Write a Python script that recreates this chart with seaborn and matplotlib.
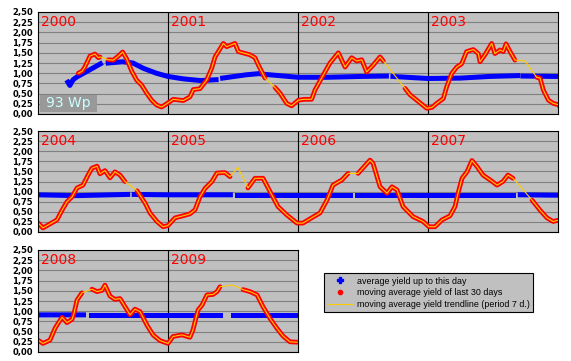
import numpy as np
import pandas as pd
import matplotlib
matplotlib.use("Agg")
import matplotlib.pyplot as plt
import seaborn as sns
from matplotlib.lines import Line2D
from matplotlib.patches import Rectangle

# x = decimal year, None marks a stretch without data
ma30_x = [2000.31, 2000.34, 2000.36, 2000.40, 2000.438, 2000.464, 2000.477, None,
          2000.541, 2000.579, 2000.618, 2000.651, 2000.682, 2000.721, 2000.759, 2000.797,
          2000.836, 2000.874, 2000.913, 2000.951, 2000.99,
          2001.04, 2001.118, 2001.169, 2001.195, 2001.246, 2001.297, 2001.336, 2001.362,
          2001.426, 2001.451, 2001.515, 2001.541, 2001.631, 2001.669, 2001.695, 2001.746, None,
          2001.823, 2001.862, 2001.913, 2001.951, 2002.003,
          2002.05, 2002.105, 2002.131, 2002.195, 2002.246, 2002.31, 2002.362, 2002.413,
          2002.451, 2002.49, 2002.528, 2002.579, 2002.631, 2002.656, None,
          2002.823, 2002.862, 2002.913, 2002.99,
          2003.03, 2003.067, 2003.118, 2003.144, 2003.182, 2003.221, 2003.259, 2003.297,
          2003.349, 2003.387, 2003.40, 2003.438, 2003.49, 2003.515, 2003.554, 2003.579,
          2003.60, 2003.631, 2003.669, None, 2003.746, None,
          2003.836, 2003.862, 2003.887, 2003.926, 2003.964,
          2004.0, 2004.038, 2004.092, 2004.146, 2004.185, 2004.223, 2004.262, 2004.30,
          2004.346, 2004.385, 2004.415, 2004.454, 2004.477, 2004.515, 2004.554, 2004.592,
          2004.631, 2004.669, None, 2004.762, 2004.823, 2004.862, 2004.915, 2004.962,
          2005.0, 2005.054, 2005.115, 2005.169, 2005.208, 2005.246, 2005.285, 2005.338,
          2005.377, 2005.438, 2005.477, None, 2005.538, None,
          2005.615, 2005.669, 2005.731, 2005.785, 2005.846, 2005.915, 2005.992,
          2006.038, 2006.115, 2006.169, 2006.223, 2006.269, 2006.338, 2006.385, None,
          2006.462, 2006.554, 2006.577, 2006.631, 2006.685, 2006.723, 2006.762, 2006.808,
          2006.885, 2006.962, 2007.008,
          2007.054, 2007.108, 2007.169, 2007.208, 2007.231, 2007.262, 2007.30, 2007.338,
          2007.377, 2007.423, 2007.477, 2007.531, 2007.577, 2007.615, 2007.654, None,
          2007.723, None, 2007.80, 2007.862, 2007.915, 2007.962,
          2008.0, 2008.038, 2008.092, 2008.131, 2008.154, 2008.185, 2008.223, 2008.262,
          2008.277, 2008.30, 2008.338, None, 2008.415, 2008.454, 2008.492, 2008.515,
          2008.554, 2008.592, 2008.631, 2008.685, 2008.708, 2008.746, 2008.785, 2008.838,
          2008.885, 2008.938,
          2009.0, 2009.038, 2009.108, 2009.169, 2009.192, 2009.231, 2009.262, 2009.30,
          2009.346, 2009.377, 2009.40, None, 2009.50, None,
          2009.577, 2009.631, 2009.685, 2009.731, 2009.785, 2009.838, 2009.885, 2009.938,
          2009.995]
ma30_y = [1.00, 1.05, 1.15, 1.42, 1.47, 1.38, 1.40, None,
          1.33, 1.32, 1.42, 1.52, 1.35, 1.05, 0.83, 0.71,
          0.51, 0.34, 0.22, 0.17, 0.25,
          0.36, 0.33, 0.42, 0.60, 0.62, 0.83, 1.12, 1.40,
          1.73, 1.65, 1.73, 1.53, 1.45, 1.38, 1.20, 0.88, None,
          0.65, 0.51, 0.26, 0.20, 0.34,
          0.36, 0.36, 0.59, 0.96, 1.25, 1.50, 1.15, 1.38,
          1.30, 1.33, 1.03, 1.20, 1.40, 1.30, None,
          0.63, 0.47, 0.34, 0.14,
          0.16, 0.26, 0.38, 0.67, 0.99, 1.15, 1.23, 1.53,
          1.58, 1.48, 1.28, 1.45, 1.73, 1.48, 1.57, 1.53,
          1.72, 1.53, 1.32, None, 1.30, None,
          0.90, 0.88, 0.59, 0.34, 0.26,
          0.23, 0.10, 0.20, 0.30, 0.54, 0.75, 0.87, 1.09,
          1.16, 1.41, 1.58, 1.63, 1.44, 1.52, 1.34, 1.49,
          1.41, 1.25, None, 1.02, 0.72, 0.47, 0.26, 0.13,
          0.16, 0.35, 0.40, 0.45, 0.55, 0.87, 1.08, 1.25,
          1.46, 1.47, 1.37, None, 1.60, None,
          1.09, 1.33, 1.33, 1.00, 0.63, 0.42, 0.22,
          0.22, 0.37, 0.47, 0.79, 1.16, 1.29, 1.45, None,
          1.45, 1.78, 1.70, 1.12, 0.96, 1.12, 1.04, 0.63,
          0.38, 0.26, 0.13,
          0.13, 0.30, 0.40, 0.63, 0.96, 1.33, 1.49, 1.77,
          1.62, 1.41, 1.29, 1.16, 1.25, 1.41, 1.33, None,
          1.08, None, 0.79, 0.54, 0.35, 0.26,
          0.29, 0.21, 0.29, 0.58, 0.70, 0.85, 0.72, 0.80,
          0.95, 1.27, 1.45, None, 1.54, 1.48, 1.51, 1.64,
          1.37, 1.29, 1.31, 1.03, 0.91, 1.05, 0.99, 0.66,
          0.42, 0.28,
          0.21, 0.38, 0.42, 0.36, 0.54, 1.03, 1.15, 1.40,
          1.41, 1.48, 1.60, None, 1.64, None,
          1.53, 1.48, 1.40, 1.11, 0.82, 0.58, 0.39, 0.25,
          0.24]

avg_x = [2000.23, 2000.245, 2000.27, 2000.30, 2000.38, 2000.48, None, 2000.54, 2000.65,
         2000.73, 2000.81, 2000.91, 2001.0, 2001.12, 2001.25, 2001.37, None, 2001.42,
         2001.60, 2001.70, 2001.75, 2002.0, 2002.22, 2002.48, 2002.68, None, 2002.73,
         2003.0, 2003.25, 2003.47, 2003.69, None, 2003.73, 2004.0,
         2004.30, 2004.69, None, 2004.74, 2005.0, 2005.48, None, 2005.53, 2006.0,
         2006.40, None, 2006.45, 2007.0, 2007.655, None, 2007.71, 2008.0,
         2008.35, None, 2008.41, 2009.0, 2009.40, None, 2009.50, 2010.0]
avg_y = [0.78, 0.70, 0.84, 0.91, 1.05, 1.23, None, 1.25, 1.28,
         1.25, 1.12, 1.00, 0.92, 0.86, 0.82, 0.84, None, 0.88,
         0.96, 0.99, 0.97, 0.90, 0.90, 0.92, 0.93, None, 0.92,
         0.87, 0.88, 0.92, 0.94, None, 0.93, 0.92,
         0.90, 0.93, None, 0.93, 0.92, 0.92, None, 0.92, 0.92,
         0.92, None, 0.92, 0.92, 0.92, None, 0.92, 0.91,
         0.91, None, 0.91, 0.91, 0.91, None, 0.91, 0.91]

row_starts = [2000, 2004, 2008]
row_years = [4, 4, 2]
legend_labels = ["average yield up to this day",
                 "moving average yield of last 30 days",
                 "moving average yield trendline (period 7 d.)"]


def to_frame(xs, ys, keep_gaps=True):
    seg = 0
    rec = []
    for x, y in zip(xs, ys):
        if y is None:
            if keep_gaps:
                seg += 1
            continue
        rec.append((x, y, seg))
    return pd.DataFrame(rec, columns=["x", "y", "seg"])


avg_df = to_frame(avg_x, avg_y)
ma_df = to_frame(ma30_x, ma30_y)
trend_df = to_frame(ma30_x, ma30_y, keep_gaps=False)

W, H = 571, 361
fig = plt.figure(figsize=(W / 100, H / 100), dpi=100)
boxes = [(38, 12, 520, 102), (38, 131, 520, 101), (38, 250, 260, 102)]

for start, n, (l, t, w, h) in zip(row_starts, row_years, boxes):
    ax = fig.add_axes([l / W, 1 - (t + h) / H, w / W, h / H])
    ax.set_facecolor("#c0c0c0")
    sns.lineplot(data=avg_df, x="x", y="y", units="seg", estimator=None, sort=False,
                 color="#0000ff", lw=3.6, ax=ax, legend=False)
    sns.lineplot(data=ma_df, x="x", y="y", units="seg", estimator=None, sort=False,
                 color="#ff0000", lw=3.4, ax=ax, legend=False, solid_capstyle="round")
    sns.lineplot(data=trend_df, x="x", y="y", units="seg", estimator=None, sort=False,
                 color="#ffcc00", lw=0.8, ax=ax, legend=False)
    ax.set_xlim(start, start + n)
    ax.set_ylim(0, 2.5)
    ax.set_yticks(np.arange(0, 2.51, 0.25))
    ax.set_yticklabels([f"{v:.2f}".replace(".", ",") for v in np.arange(0, 2.51, 0.25)],
                       fontsize=6, fontweight="bold")
    ax.tick_params(axis="y", length=0, pad=3.5)
    ax.set_xticks([])
    ax.set_xlabel("")
    ax.set_ylabel("")
    ax.yaxis.grid(True, color="#808080", lw=0.8)
    ax.set_axisbelow(True)
    for s in ax.spines.values():
        s.set_color("black")
        s.set_linewidth(0.8)
    for yr in range(start, start + n):
        if yr > start:
            ax.axvline(yr, color="black", lw=0.8, zorder=1.5)
        ax.annotate(str(yr), xy=(yr, 1), xycoords=("data", "axes fraction"),
                    xytext=(2.5, -2.5), textcoords="offset points",
                    ha="left", va="top", fontsize=10, color="#ff0000")
    if start == 2000:
        ax.add_patch(Rectangle((2 / w, 2 / h), 57 / w, 17 / h, transform=ax.transAxes,
                               facecolor="#999999", edgecolor="none", zorder=5))
        ax.text(30.5 / w, 10.5 / h, "93 Wp", transform=ax.transAxes, ha="center",
                va="center", fontsize=10, color="#ccffff", zorder=6)

handles = [Line2D([], [], ls="none", marker="P", ms=4, color="#0000ff"),
           Line2D([], [], ls="none", marker="o", ms=3, color="#ff0000"),
           Line2D([], [], color="#ffcc00", lw=0.8)]
leg = fig.legend(handles, legend_labels, loc="upper left",
                 bbox_to_anchor=(324 / W, 1 - 273 / H), borderaxespad=0,
                 frameon=True, fancybox=False, edgecolor="black", facecolor="#c0c0c0",
                 framealpha=1, prop={"family": "Liberation Sans", "size": 6.4},
                 handlelength=2.8, handletextpad=0.5, borderpad=0.4, labelspacing=0.3)
leg.get_frame().set_linewidth(0.8)

fig.savefig("out.png", dpi=100)
